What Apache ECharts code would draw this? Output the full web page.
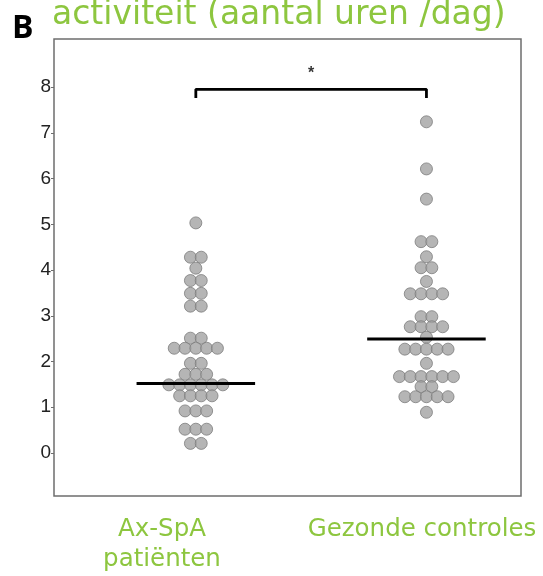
<!DOCTYPE html>
<html>
<head>
<meta charset="utf-8">
<script src="https://cdn.jsdelivr.net/npm/echarts@6/dist/echarts.min.js"></script>
<style>
html,body{margin:0;padding:0;background:#fff;}
#chart{width:543px;height:576px;}
</style>
</head>
<body>
<div id="chart"></div>
<script>
const panelLetter = 'B';
const titleText = 'activiteit (aantal uren /dag)';
const categories = ['Ax-SpA\npatiënten', 'Gezonde controles'];
const yTickValues = [0, 1, 2, 3, 4, 5, 6, 7, 8];
const yTickLabels = ['0', '1', '2', '3', '4', '5', '6', '7', '8'];

const axSpaValues = [
  5.03,
  4.28, 4.28,
  4.04,
  3.77, 3.77,
  3.49, 3.49,
  3.21, 3.21,
  2.51, 2.51,
  2.29, 2.29, 2.29, 2.29, 2.29,
  1.96, 1.96,
  1.72, 1.72, 1.72,
  1.49, 1.49, 1.49, 1.49, 1.49, 1.49,
  1.25, 1.25, 1.25, 1.25,
  0.92, 0.92, 0.92,
  0.52, 0.52, 0.52,
  0.21, 0.21
];
const controlValues = [
  7.24,
  6.21,
  5.55,
  4.62, 4.62,
  4.29,
  4.05, 4.05,
  3.75,
  3.48, 3.48, 3.48, 3.48,
  2.98, 2.98,
  2.76, 2.76, 2.76, 2.76,
  2.53,
  2.27, 2.27, 2.27, 2.27, 2.27,
  1.96,
  1.67, 1.67, 1.67, 1.67, 1.67, 1.67,
  1.45, 1.45,
  1.23, 1.23, 1.23, 1.23, 1.23,
  0.89
];
const centerLineValues = [1.52, 2.49];
const bracketTopValue = 7.95;
const bracketFootValue = 7.76;
const significanceLabel = '*';
const significanceY = 8.30;

// layout
const groupPositions = [1, 2];
const dotStep = 0.0468;
const lineHalfWidth = 0.257;
const green = '#8DC63F';

function swarm(values, center) {
  const counts = new Map();
  values.forEach(v => counts.set(v, (counts.get(v) || 0) + 1));
  const pts = [];
  counts.forEach((n, v) => {
    for (let i = 0; i < n; i++) {
      pts.push([center + (i - (n - 1) / 2) * dotStep, v]);
    }
  });
  return pts;
}

const chart = echarts.init(document.getElementById('chart'), null, {renderer: 'canvas'});

const dotStyle = {color: '#a3a3a3', borderColor: '#7d7d7d', borderWidth: 1};
const groupsData = [axSpaValues, controlValues];

const series = [];
groupsData.forEach((vals, gi) => {
  series.push({
    type: 'scatter',
    data: swarm(vals, groupPositions[gi]),
    symbol: 'circle',
    symbolSize: 12,
    itemStyle: dotStyle,
    silent: true,
    z: 2
  });
});
centerLineValues.forEach((m, gi) => {
  const c = groupPositions[gi];
  series.push({
    type: 'line',
    data: [[c - lineHalfWidth, m], [c + lineHalfWidth, m]],
    symbol: 'none',
    lineStyle: {color: '#000', width: 3},
    silent: true,
    z: 5
  });
});
series.push({
  type: 'line',
  data: [
    [groupPositions[0], bracketFootValue],
    [groupPositions[0], bracketTopValue],
    [groupPositions[1], bracketTopValue],
    [groupPositions[1], bracketFootValue]
  ],
  symbol: 'none',
  lineStyle: {color: '#000', width: 2.8},
  silent: true,
  z: 5
});
series.push({
  type: 'scatter',
  data: [[(groupPositions[0] + groupPositions[1]) / 2, significanceY]],
  symbolSize: 0,
  label: {
    show: true,
    position: 'inside',
    formatter: significanceLabel,
    fontSize: 16,
    fontWeight: 'bold',
    color: '#000',
    fontFamily: 'Liberation Sans'
  },
  silent: true,
  z: 6
});

const labelX = [162, 422];

chart.setOption({
  animation: false,
  backgroundColor: '#fff',
  grid: {
    left: 54, top: 39, right: 22, bottom: 80,
    show: true, borderColor: '#6e6e6e', borderWidth: 1.5,
    containLabel: false
  },
  xAxis: {
    type: 'value',
    min: 0.385,
    max: 2.41,
    axisLine: {show: false},
    axisTick: {show: false},
    axisLabel: {show: false},
    splitLine: {show: false}
  },
  yAxis: {
    type: 'value',
    min: -0.94,
    max: 9.05,
    axisLine: {show: false},
    axisTick: {
      show: true, length: 3, inside: false,
      customValues: yTickValues,
      lineStyle: {color: '#6e6e6e', width: 1}
    },
    axisLabel: {
      show: true,
      customValues: yTickValues,
      formatter: v => yTickLabels[yTickValues.indexOf(Math.round(v))],
      margin: 3,
      fontSize: 19,
      color: '#222',
      fontFamily: 'Liberation Sans'
    },
    splitLine: {show: false}
  },
  graphic: [
    {
      type: 'text', left: 12, top: 13,
      style: {text: panelLetter, fontSize: 32, fontWeight: 'bold', fill: '#000', fontFamily: 'Open Sans'}
    },
    {
      type: 'text', x: 52, y: -1.5,
      style: {text: titleText, fontSize: 33, lineHeight: 33, fill: green, fontFamily: 'DejaVu Sans', verticalAlign: 'top'}
    },
    ...categories.map((c, i) => ({
      type: 'text',
      x: labelX[i], y: 514.6,
      style: {
        text: c, fontSize: 24.5, fill: green, fontFamily: 'DejaVu Sans',
        align: 'center', verticalAlign: 'top', lineHeight: 30
      }
    }))
  ],
  series: series
});
</script>
</body>
</html>
